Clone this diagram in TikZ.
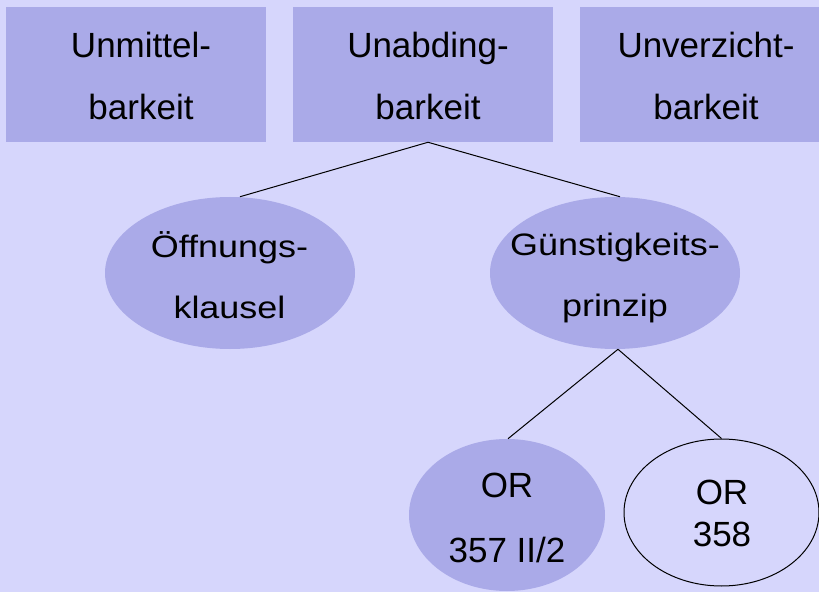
\documentclass[tikz,border=0pt]{standalone}
\usepackage{fontspec}
\setmainfont{Liberation Sans}
\newfontfamily\ellfont{Liberation Sans}[FakeStretch=1.16]
\usetikzlibrary{shapes.geometric,calc}
\definecolor{bgcol}{RGB}{214,214,252}
\definecolor{fillcol}{RGB}{170,170,232}
\tikzset{
  boxshape/.style={rectangle, fill=fillcol, draw=none, inner sep=0pt},
  ellshape/.style={ellipse, fill=fillcol, draw=none, inner sep=0pt},
  openell/.style={ellipse, draw=black, line width=0.75pt, fill=none, inner sep=0pt},
  boxtext/.style={anchor=base, align=center, inner sep=0pt, font=\fontsize{26.25}{47.25}\selectfont},
  elltext/.style={anchor=base, align=center, inner sep=0pt, font=\ellfont\fontsize{23.25}{45.75}\selectfont},
  conn/.style={draw=black, line width=0.75pt}
}
\begin{document}
\begin{tikzpicture}[x=0.75pt,y=-0.75pt]
\fill[bgcol] (0,0) rectangle (819,592);
\useasboundingbox (0,0) rectangle (819,592);
% top boxes
\node[boxshape, minimum width=195pt, minimum height=101.25pt] (b1) at (136,74.5) {};
\node[boxshape, minimum width=195pt, minimum height=101.25pt] (b2) at (423,74.5) {};
\node[boxshape, minimum width=179.25pt, minimum height=101.25pt] (b3) at (699.5,74.5) {};
\node[boxtext] (t1) at (141,120) {Unmittel-\\barkeit};
\node[boxtext] (t2) at (428,120) {Unabding-\\barkeit};
\node[boxtext] (t3) at (706,120) {Unverzicht-\\barkeit};
% middle ellipses
\node[ellshape, minimum width=187.5pt, minimum height=114pt] (e1) at (230,273) {};
\node[ellshape, minimum width=187.5pt, minimum height=114pt] (e2) at (615,273) {};
\node[elltext] (te1) at (229.5,318) {Öffnungs-\\klausel};
\node[elltext] (te2) at (615,316.5) {Günstigkeits-\\prinzip};
% bottom ellipses
\node[ellshape, minimum width=147pt, minimum height=114pt] (e3) at (507,515) {};
\node[openell, minimum width=146.25pt, minimum height=110.25pt] (e4) at (721.5,512.5) {};
\node[boxtext, font=\fontsize{26.25}{48.75}\selectfont] (te3) at (507,562) {OR\\357 II/2};
\node[boxtext, font=\fontsize{26.25}{31.5}\selectfont] (te4) at (722,546) {OR\\358};
% connectors
\draw[conn] ($(b2.south)+(5,0)$) -- ($(e1.north)+(10,0)$);
\draw[conn] ($(b2.south)+(5,0)$) -- ($(e2.north)+(5,0)$);
\draw[conn] ($(e2.south)+(3,0)$) -- ($(e3.north)+(1,0)$);
\draw[conn] ($(e2.south)+(3,0)$) -- (e4.north);
\end{tikzpicture}
\end{document}
